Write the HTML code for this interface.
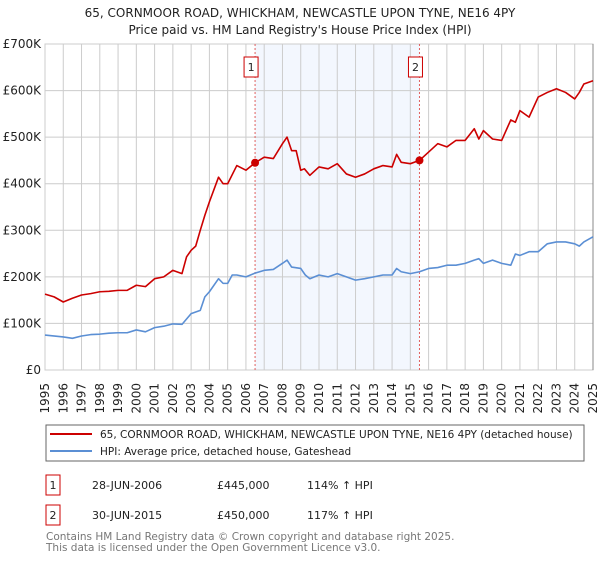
<!DOCTYPE html>
<html><head><meta charset="utf-8"><style>
body{margin:0;background:#fff;font-family:"DejaVu Sans","Liberation Sans",sans-serif}
svg text{font-family:"DejaVu Sans","Liberation Sans",sans-serif}
</style></head><body>
<svg id="c" width="600" height="560" xmlns="http://www.w3.org/2000/svg">
<text x="300" y="17" text-anchor="middle" font-size="12" fill="#222">65, CORNMOOR ROAD, WHICKHAM, NEWCASTLE UPON TYNE, NE16 4PY</text>
<text x="300" y="34" text-anchor="middle" font-size="12" fill="#222">Price paid vs. HM Land Registry's House Price Index (HPI)</text>
<g id="plot"></g>
<rect x="46" y="425" width="538" height="36" fill="#fff" stroke="#666"/>
<line x1="50" y1="434" x2="92" y2="434" stroke="#cc0000" stroke-width="2"/>
<text x="100" y="438" font-size="10.5" fill="#222">65, CORNMOOR ROAD, WHICKHAM, NEWCASTLE UPON TYNE, NE16 4PY (detached house)</text>
<line x1="50" y1="451" x2="92" y2="451" stroke="#5b8fd4" stroke-width="2"/>
<text x="100" y="455" font-size="10.5" fill="#222">HPI: Average price, detached house, Gateshead</text>
<rect x="46" y="475" width="14" height="20" fill="#fff" stroke="#cc0000"/>
<text x="53" y="489" text-anchor="middle" font-size="11" fill="#222">1</text>
<text x="92" y="489" font-size="11" fill="#222">28-JUN-2006</text>
<text x="217" y="489" font-size="11" fill="#222">£445,000</text>
<text x="307" y="489" font-size="11" fill="#222">114% ↑ HPI</text>
<rect x="46" y="505" width="14" height="20" fill="#fff" stroke="#cc0000"/>
<text x="53" y="519" text-anchor="middle" font-size="11" fill="#222">2</text>
<text x="92" y="519" font-size="11" fill="#222">30-JUN-2015</text>
<text x="217" y="519" font-size="11" fill="#222">£450,000</text>
<text x="307" y="519" font-size="11" fill="#222">117% ↑ HPI</text>
<text x="46" y="540" font-size="10.5" fill="#777">Contains HM Land Registry data © Crown copyright and database right 2025.</text>
<text x="46" y="551" font-size="10.5" fill="#777">This data is licensed under the Open Government Licence v3.0.</text>
</svg>
<script>
const hpiYears=[1995,1996,1996.5,1997,1997.5,1998,1998.5,1999,1999.5,2000,2000.5,2001,2001.5,2002,2002.5,2003,2003.5,2003.75,2004,2004.5,2004.75,2005,2005.25,2005.5,2006,2006.5,2007,2007.5,2008,2008.25,2008.5,2009,2009.25,2009.5,2010,2010.5,2011,2011.5,2012,2012.5,2013,2013.5,2014,2014.25,2014.5,2015,2015.5,2016,2016.5,2017,2017.5,2018,2018.5,2018.75,2019,2019.5,2020,2020.5,2020.75,2021,2021.5,2022,2022.5,2023,2023.5,2024,2024.25,2024.5,2025];
const hpiValues=[75,71,68,73,76,77,79,80,80,86,82,91,94,99,98,121,128,157,168,196,186,186,204,204,200,208,214,216,229,236,221,218,204,196,204,200,207,200,193,196,200,204,204,218,211,207,211,218,220,225,225,229,236,239,229,236,229,225,249,246,254,254,271,275,275,271,266,275,286];
const priceYears=[1995,1995.5,1996,1996.5,1997,1997.5,1998,1998.5,1999,1999.5,2000,2000.5,2001,2001.5,2002,2002.5,2002.75,2003,2003.25,2003.5,2003.75,2004,2004.5,2004.75,2005,2005.5,2006,2006.5,2007,2007.5,2008,2008.25,2008.5,2008.75,2009,2009.2,2009.5,2010,2010.5,2011,2011.5,2012,2012.5,2013,2013.5,2014,2014.25,2014.5,2015,2015.5,2016,2016.5,2017,2017.5,2018,2018.5,2018.75,2019,2019.5,2020,2020.5,2020.75,2021,2021.5,2022,2022.5,2023,2023.5,2024,2024.25,2024.5,2025];
const priceValues=[163,157,146,154,161,164,168,169,171,171,182,179,196,200,214,207,243,257,266,300,332,361,414,400,400,439,429,445,457,454,486,500,471,471,429,432,418,436,432,443,421,414,421,432,439,436,463,446,443,450,468,486,479,493,493,518,496,514,496,493,537,532,557,543,586,596,604,596,582,596,614,621];
const saleYears=[2006.5,2015.5];
const saleValues=[445,450];
const saleLabels=["1","2"];
const yTicks=[0,100,200,300,400,500,600,700];
const yTickLabels=["£0","£100K","£200K","£300K","£400K","£500K","£600K","£700K"];
const xTicks=[1995,1996,1997,1998,1999,2000,2001,2002,2003,2004,2005,2006,2007,2008,2009,2010,2011,2012,2013,2014,2015,2016,2017,2018,2019,2020,2021,2022,2023,2024,2025];

const X0=45,X1=593,Y0=370,Y1=44;
const xs=y=>X0+(y-1995)/30*(X1-X0);
const ys=v=>Y0-v/700*(Y0-Y1);
const g=document.getElementById('plot');
const NS='http://www.w3.org/2000/svg';
function mk(t,a){const e=document.createElementNS(NS,t);for(const k in a)e.setAttribute(k,a[k]);g.appendChild(e);return e;}
let e=mk('rect',{x:X0,y:Y1,width:X1-X0,height:Y0-Y1,fill:'#fff',stroke:'#ccc'});


e=mk('rect',{x:xs(saleYears[0]),y:Y1,width:xs(saleYears[1])-xs(saleYears[0]),height:Y0-Y1,fill:'#eef3fd',opacity:0.7});


xTicks.forEach((t,i)=>{
 const l=mk('line',{x1:xs(t),x2:xs(t),y1:Y1,y2:Y0,stroke:'#ccc'});
 
 
 const tx=mk('text',{x:0,y:0,'font-size':12,fill:'#222','text-anchor':'end',transform:`translate(${xs(t)+4},${Y0+13}) rotate(-90)`});
 tx.textContent=t;
 
 
});
yTicks.forEach((t,i)=>{
 const l=mk('line',{x1:X0,x2:X1,y1:ys(t),y2:ys(t),stroke:'#ccc'});
 
 
 const tx=mk('text',{x:41,y:ys(t)+4,'font-size':12,fill:'#222','text-anchor':'end'});
 tx.textContent=yTickLabels[i];
 
 
});
e=mk('line',{x1:X1,x2:X1,y1:Y1,y2:Y0,stroke:'#888'});


saleYears.forEach((s,i)=>{
 const l=mk('line',{x1:xs(s),x2:xs(s),y1:Y1,y2:Y0,stroke:'#e06060','stroke-dasharray':'2,2'});
 
 
 const r=mk('rect',{x:xs(s)-11,y:57,width:14,height:20,fill:'#fff',stroke:'#cc0000'});
 
 
 const t=mk('text',{x:xs(s)-4,y:71,'font-size':11,fill:'#222','text-anchor':'middle'});
 t.textContent=saleLabels[i];
 
 
});
function line(xa,va,col,name){
 const p=mk('polyline',{points:xa.map((x,i)=>xs(x)+','+ys(va[i])).join(' '),fill:'none',stroke:col,'stroke-width':1.6,'stroke-linejoin':'round'});
 
 
}
line(hpiYears,hpiValues,'#5b8fd4','hpi-line');
line(priceYears,priceValues,'#cc0000','price-line');
saleYears.forEach((s,i)=>{
 const c=mk('circle',{cx:xs(s),cy:ys(saleValues[i]),r:4,fill:'#cc0000'});
 
 
});
</script>
</body></html>
